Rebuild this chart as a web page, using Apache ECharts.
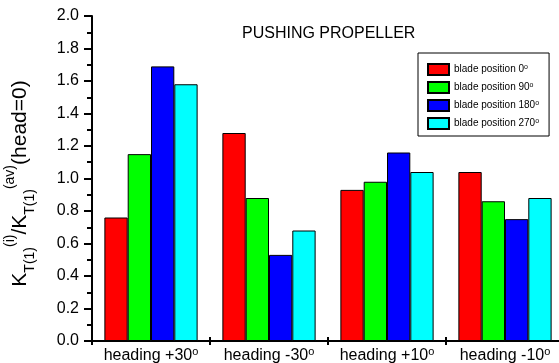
<!DOCTYPE html>
<html>
<head>
<meta charset="utf-8">
<script src="https://cdn.jsdelivr.net/npm/echarts@6/dist/echarts.min.js"></script>
<style>html,body{margin:0;padding:0;background:#fff}#c{width:559px;height:363px}</style>
</head>
<body>
<div id="c"></div>
<script>
var categories = ['heading +30', 'heading -30', 'heading +10', 'heading -10'];
var seriesNames = ['blade position 0', 'blade position 90', 'blade position 180', 'blade position 270'];
var blade0 = [0.76, 1.28, 0.93, 1.04];
var blade90 = [1.15, 0.88, 0.98, 0.86];
var blade180 = [1.69, 0.53, 1.16, 0.75];
var blade270 = [1.58, 0.68, 1.04, 0.88];
var colors = ['#ff0000', '#00ff00', '#0000ff', '#00ffff'];
var titleText = 'PUSHING PROPELLER';

var FONT = '"Liberation Sans", Arial, sans-serif';
var chart = echarts.init(document.getElementById('c'));
var seriesData = [blade0, blade90, blade180, blade270];

var option = {
  animation: false,
  backgroundColor: '#fff',
  textStyle: { fontFamily: FONT },
  title: {
    text: titleText, left: 237, top: 21,
    textStyle: { fontFamily: FONT, fontSize: 16, fontWeight: 'normal', color: '#000' }
  },
  grid: { left: 92, right: -5, top: 16, bottom: 22, containLabel: false, outerBoundsMode: 'none' },
  legend: {
    orient: 'vertical', left: 418, top: 53,
    padding: [10, 10, 6, 9],
    borderColor: '#000', borderWidth: 1,
    itemWidth: 21, itemHeight: 11, itemGap: 5,
    icon: 'rect',
    data: seriesNames,
    formatter: function (n) { return n + '{s|o}'; },
    textStyle: {
      fontFamily: FONT, fontSize: 10, color: '#000', lineHeight: 12,
      rich: { s: { fontSize: 7, verticalAlign: 'top', lineHeight: 12, fontFamily: FONT } }
    }
  },
  xAxis: [{
    type: 'category', data: categories,
    axisLine: { lineStyle: { color: '#000', width: 2 } },
    axisTick: { show: true, length: 4, interval: 0, lineStyle: { color: '#000', width: 2 } },
    axisLabel: {
      interval: 0, margin: 5, color: '#000', fontSize: 16, fontFamily: FONT,
      formatter: function (v) { return v + '{s|o}'; },
      rich: { s: { fontSize: 11, verticalAlign: 'top', lineHeight: 19, fontFamily: FONT, color: '#000' } },
      lineHeight: 19
    }
  }, {
    type: 'category', data: categories, position: 'bottom',
    axisLine: { show: false },
    axisTick: { show: true, inside: true, length: 4, interval: 0, lineStyle: { color: '#000', width: 2 } },
    axisLabel: { show: false }
  }],
  yAxis: {
    type: 'value', min: 0, max: 2, interval: 0.2,
    axisLine: { show: true, lineStyle: { color: '#000', width: 2 } },
    axisTick: { show: true, length: 8, lineStyle: { color: '#000', width: 2 } },
    minorTick: { show: true, splitNumber: 2, length: 5, lineStyle: { color: '#000', width: 2 } },
    splitLine: { show: false },
    axisLabel: {
      margin: 13, color: '#000', fontSize: 16, fontFamily: FONT,
      formatter: function (v) { return v.toFixed(1); }
    },
    name: '{b|K}{sub|T(1)}{sup|(i)}{b|/K}{sub|T(1)}{sup|(av)}{b|(head=0)}',
    nameLocation: 'middle', nameRotate: 90, nameGap: 55,
    nameTextStyle: {
      color: '#000', fontFamily: FONT, padding: [0, 10, 0, 0],
      rich: {
        b: { fontSize: 21, lineHeight: 34, fontFamily: FONT, color: '#000' },
        sub: { fontSize: 14, verticalAlign: 'bottom', lineHeight: 34, fontFamily: FONT, color: '#000' },
        sup: { fontSize: 14, verticalAlign: 'top', lineHeight: 34, fontFamily: FONT, color: '#000' }
      }
    }
  },
  series: seriesNames.map(function (n, i) {
    return {
      name: n, type: 'bar', data: seriesData[i],
      barGap: 0, barCategoryGap: '21%',
      itemStyle: { color: colors[i], borderColor: '#000', borderWidth: 1 }
    };
  })
};
chart.setOption(option);
</script>
</body>
</html>
